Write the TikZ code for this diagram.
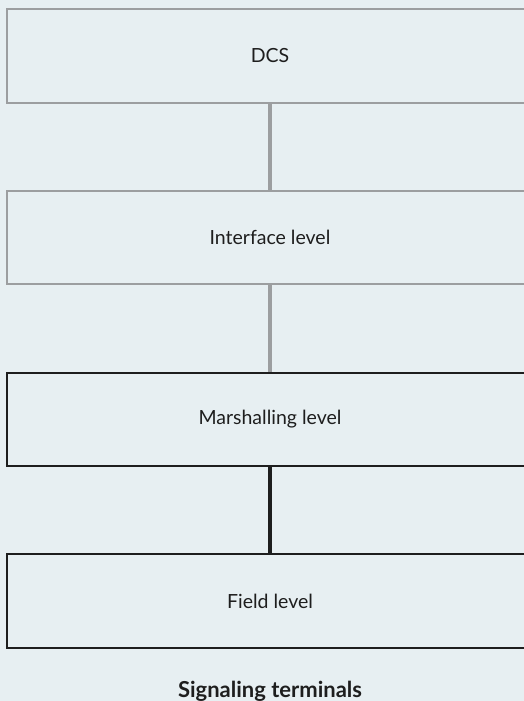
\documentclass[tikz,border=0pt]{standalone}
\usepackage{fontspec}
\setmainfont{Lato}
\usetikzlibrary{positioning}
\definecolor{bgblue}{HTML}{E7EFF2}
\definecolor{linegrey}{HTML}{9C9EA0}
\definecolor{lineblack}{HTML}{1E1E1E}
\begin{document}
\begin{tikzpicture}[x=1pt,y=1pt,
  level/.style={draw=linegrey,line width=2pt,minimum width=526pt,minimum height=93.5pt,
    text=lineblack,font=\fontsize{19.5}{22}\selectfont},
  darklevel/.style={level,draw=lineblack},
  link/.style={linegrey,line width=4pt},
  darklink/.style={link,lineblack},
  node distance=86.2pt]
\fill[bgblue] (0,0) rectangle (524,-701);
\useasboundingbox (0,0) rectangle (524,-701);
\clip (0,0) rectangle (524,-701);
\node[level] (dcs) at (270,-56) {DCS};
\node[level,below=of dcs] (iface) {Interface level};
\node[darklevel,below=of iface] (marsh) {Marshalling level};
\node[darklevel,below=of marsh] (field) {Field level};
\node[below=29pt of field,text=lineblack,font=\fontsize{22}{25}\selectfont\bfseries] (caption) {Signaling terminals};
% links
\draw[link] (dcs) -- (iface);
\draw[link] (iface) -- (marsh);
\draw[darklink] (marsh) -- (field);
\end{tikzpicture}
\end{document}
